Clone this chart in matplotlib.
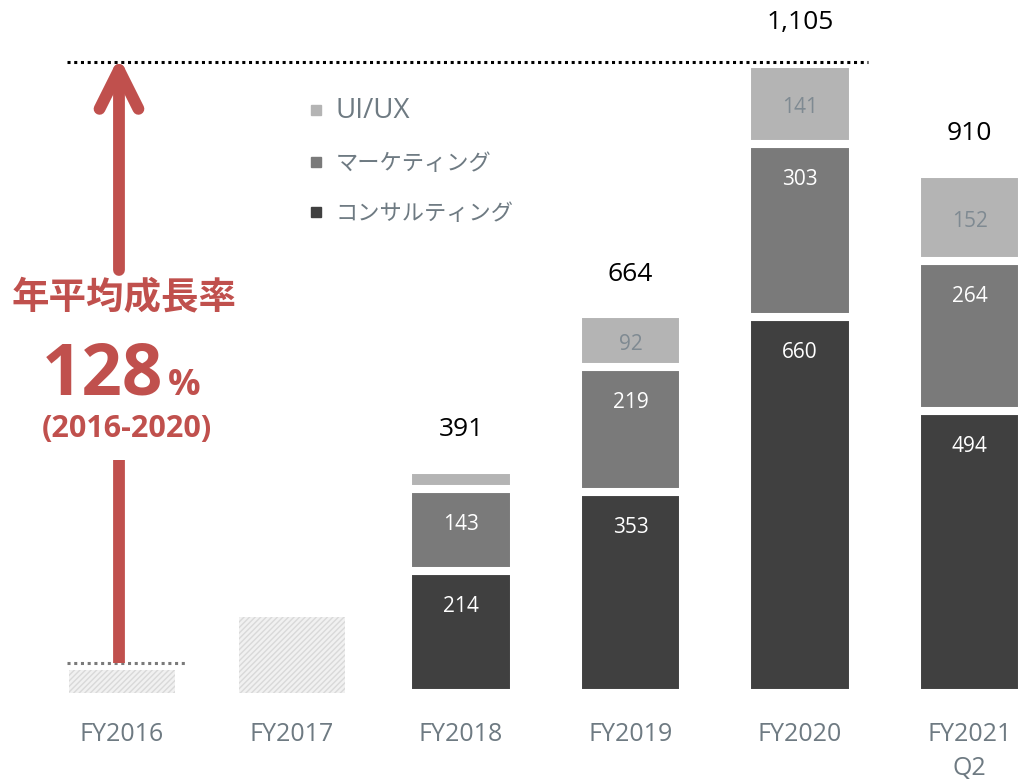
import matplotlib
matplotlib.use('Agg')
import matplotlib.pyplot as plt
from matplotlib.lines import Line2D
import numpy as np

plt.rcParams['font.family'] = ['Open Sans', 'Noto Sans CJK JP', 'DejaVu Sans']

# data
categories = ['FY2016', 'FY2017', 'FY2018', 'FY2019', 'FY2020', 'FY2021\nQ2']
early_totals = [41, 133]            # FY2016, FY2017 (no breakdown)
consulting = [214, 353, 660, 494]   # FY2018 .. FY2021 Q2
marketing = [143, 219, 303, 264]
uiux = [34, 92, 141, 152]
totals = [391, 664, 1105, 910]
total_labels = ['391', '664', '1,105', '910']
series_names = ['UI/UX', 'マーケティング', 'コンサルティング']
cagr_text = '128'
cagr_years = '(2016-2020)'

c_dark = '#404040'
c_mid = '#7a7a7a'
c_light = '#b4b4b4'
c_red = '#c0504d'
c_tick = '#6e7a82'

fig = plt.figure(figsize=(10.18, 7.8), dpi=100)
ax = fig.add_axes([0, 87 / 780, 1, 693 / 780])

x = np.arange(len(categories))
bw = 0.625

# hatched bars for the early years
ax.bar(x[:2], early_totals, bw, color='#f1f1f1', edgecolor='#d9d9d9',
       hatch='//////', linewidth=0)

# stacked bars
xs = x[2:]
cons = np.array(consulting)
mark = np.array(marketing)
ui = np.array(uiux)
ax.bar(xs, cons, bw, color=c_dark, edgecolor='white', linewidth=5.8)
ax.bar(xs, mark, bw, bottom=cons, color=c_mid, edgecolor='white', linewidth=5.8)
ax.bar(xs, ui, bw, bottom=cons + mark, color=c_light, edgecolor='white', linewidth=5.8)

# segment labels
for xi, c, m, u in zip(xs, cons, mark, ui):
    ax.annotate(str(c), (xi, c), xytext=(0, -25.5), textcoords='offset points',
                ha='center', va='center', color='white', fontsize=15)
    ax.annotate(str(m), (xi, c + m), xytext=(0, -25.5), textcoords='offset points',
                ha='center', va='center', color='white', fontsize=15)
    if u >= 60:
        ax.annotate(str(u), (xi, c + m + u / 2), xytext=(0, -2.5),
                    textcoords='offset points', ha='center', va='center',
                    color='#7f8a92', fontsize=15)

# totals
for xi, t, lab in zip(xs, totals, total_labels):
    ax.annotate(lab, (xi, t), xytext=(0, 29), textcoords='offset points',
                ha='center', va='center', color='black', fontsize=19)

# dotted reference lines
dots = (0, (1, 1.2))
ax.plot([-0.325, 4.40], [1107, 1107], color='black', lw=2.2, linestyle=dots)
ax.plot([-0.325, 0.383], [52.6, 52.6], color='#7a7a7a', lw=2.2, linestyle=dots)

# growth arrow
ax_x = -0.018
ax.plot([ax_x, ax_x], [52.6, 409], color=c_red, lw=8.5, solid_capstyle='butt')
ax.annotate('', xy=(ax_x, 1116), xytext=(ax_x, 742),
            arrowprops=dict(arrowstyle='->,head_length=28,head_width=14',
                            mutation_scale=1, color=c_red, lw=8.5,
                            shrinkA=0, shrinkB=0, capstyle='round',
                            joinstyle='round'))

ax.text(0.015, 693, '年平均成長率', ha='center', va='center', color=c_red,
        fontsize=27, fontweight='bold', family=['Noto Sans CJK JP'])
ax.text(0.242, 523, cagr_text, ha='right', va='baseline', color=c_red,
        fontsize=51, fontweight='bold')
ax.text(0.271, 523, '%', ha='left', va='baseline', color=c_red,
        fontsize=26, fontweight='bold')
ax.text(0.03, 463, cagr_years, ha='center', va='center', color=c_red,
        fontsize=22, fontweight='bold')

# legend
handles = [Line2D([], [], marker='s', linestyle='none', markersize=6.5,
                  color=col) for col in (c_light, c_mid, c_dark)]
leg = ax.legend(handles, series_names, loc='upper left',
                bbox_to_anchor=(300 / 1018, (693 - 88) / 693), frameon=False,
                fontsize=16, handlelength=0.6, handletextpad=0.6,
                labelspacing=1.3, borderaxespad=0)
for t in leg.get_texts():
    t.set_color(c_tick)
leg.get_texts()[0].set_fontsize(20)

ax.set_xticks(x)
ax.set_xticklabels(categories, color=c_tick, fontsize=18, linespacing=1.45)
ax.tick_params(axis='x', length=0, pad=21)
ax.set_yticks([])
ax.set_xlim(-0.72, 5.286)
ax.set_ylim(0, 1215.6)
for s in ax.spines.values():
    s.set_visible(False)

fig.savefig('out.png', dpi=100)
